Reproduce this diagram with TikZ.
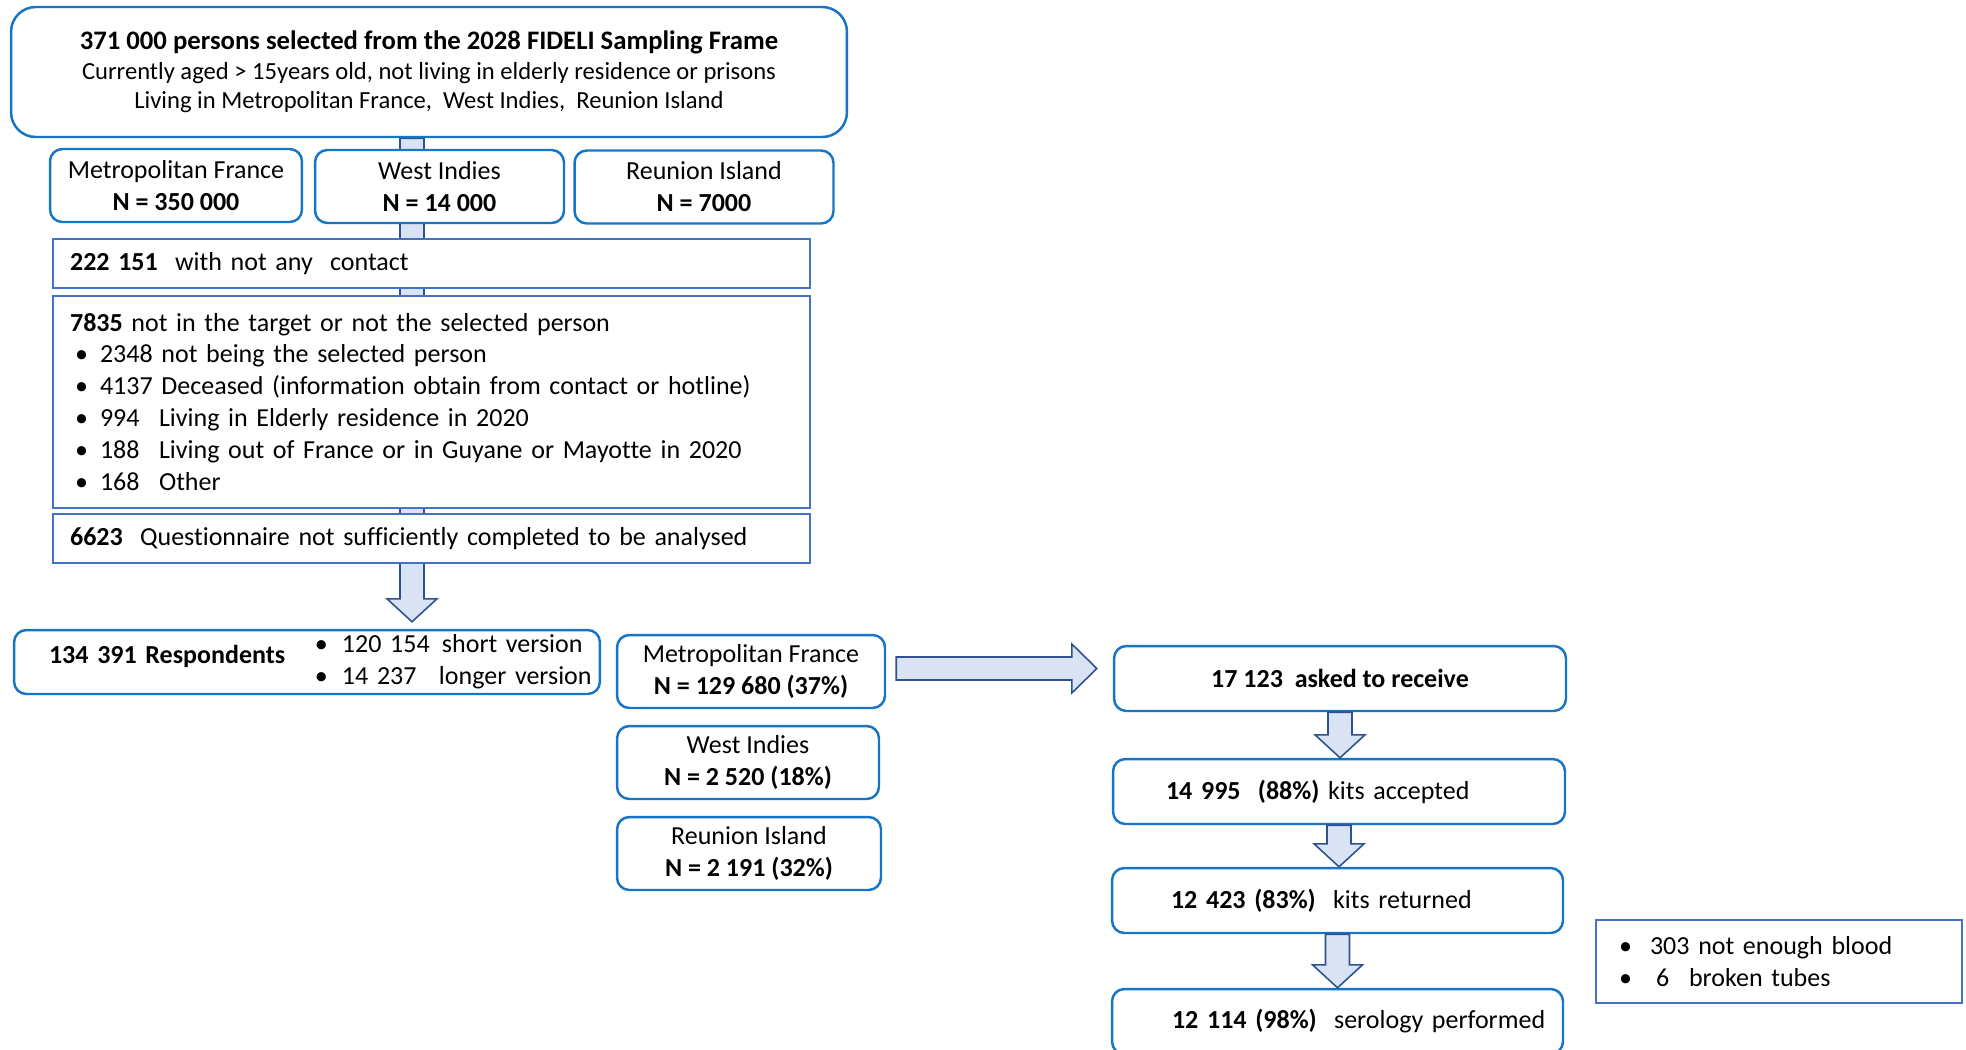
\documentclass[tikz,border=0pt]{standalone}
\usepackage{fontspec}
\setmainfont{Carlito}[Ligatures=CommonOff]
\usetikzlibrary{positioning,calc,backgrounds}
\definecolor{rndblue}{RGB}{23,117,197}
\definecolor{sqblue}{RGB}{68,114,196}
\definecolor{arrfill}{RGB}{218,227,243}
\definecolor{arrline}{RGB}{47,82,143}

% block arrow pointing down: top point, tip point (same x)
\newcommand\vblk[2]{%
  \draw[blk] ($#1+(-12,0)$) -- ($#1+(12,0)$) -- ($#2+(12,-23)$) -- ($#2+(25,-23)$)
    -- #2 -- ($#2+(-25,-23)$) -- ($#2+(-12,-23)$) -- cycle;}
\newcommand\bul[1]{\makebox[#1][l]{\textbullet}}

\begin{document}
\begin{tikzpicture}[x=0.02cm, y=-0.02cm,
  every node/.style={font=\fontsize{14.8}{18.2}\selectfont},
  rbox/.style={draw=rndblue, line width=1.4pt, fill=white, rounded corners=#1,
               align=center, inner sep=0pt},
  rbox/.default=7pt,
  sqbox/.style={draw=sqblue, line width=1.1pt, fill=white, align=left,
                inner xsep=0.34cm, inner ysep=0pt},
  blk/.style={fill=arrfill, draw=arrline, line width=0.9pt, line join=miter}
]
\useasboundingbox (0,0) rectangle (1966,1049);

% sampling frame
\node[rbox=14pt, minimum width=16.72cm, minimum height=2.6cm,
      font=\fontsize{14}{16.8}\selectfont] (frame) at (429,72)
  {{\fontsize{15.2}{16.8}\selectfont\textbf{371 000 persons selected from the 2028 FIDELI Sampling Frame}}\\
   Currently aged > 15years old, not living in elderly residence or prisons\\
   Living in Metropolitan France,\ \ West Indies,\ \ Reunion Island};

\node[rbox, minimum width=5.04cm, minimum height=1.46cm] (metro)   at (176,185.5) {Metropolitan France\\\textbf{N = 350 000}};
\node[rbox, minimum width=4.98cm, minimum height=1.46cm] (indies)  at (439.5,186.5) {West Indies\\\textbf{N = 14 000}};
\node[rbox, minimum width=5.18cm, minimum height=1.46cm] (reunion) at (704,187) {Reunion Island\\\textbf{N = 7000}};

% exclusions
\node[sqbox, text width=14.46cm, minimum height=0.98cm] (nocontact) at (431.5,263.5)
  {\textbf{222 151}\ \ with not any\ \ contact};
\node[sqbox, text width=14.46cm, minimum height=4.24cm] (outtarget) at (431.5,402)
  {\textbf{7835} not in the target or not the selected person\\
   \hspace*{0.1cm}\bul{0.5cm}2348 not being the selected person\\
   \hspace*{0.1cm}\bul{0.5cm}4137 Deceased (information obtain from contact or hotline)\\
   \hspace*{0.1cm}\bul{0.5cm}\makebox[1.18cm][l]{994}Living in Elderly residence in 2020\\
   \hspace*{0.1cm}\bul{0.5cm}\makebox[1.18cm][l]{188}Living out of France or in Guyane or Mayotte in 2020\\
   \hspace*{0.1cm}\bul{0.5cm}\makebox[1.18cm][l]{168}Other};
\node[sqbox, text width=14.46cm, minimum height=0.98cm] (incomplete) at (431.5,538.5)
  {\textbf{6623}\ \ Questionnaire not sufficiently completed to be analysed};

% respondents
\node[rbox, align=left, inner xsep=0.1cm, text width=11.52cm, minimum height=1.28cm] (resp) at (307,662)
  {\hspace*{0.6cm}\raisebox{0.1cm}{\makebox[5.32cm][l]{\textbf{134 391 Respondents}}}%
   \begin{tabular}[c]{@{}l@{}}
     \bul{0.54cm}\makebox[2cm][l]{120 154}short version\\
     \bul{0.54cm}\makebox[1.94cm][l]{14 237}longer version
   \end{tabular}};

\node[rbox, minimum width=5.36cm, minimum height=1.46cm] (metroresp)   at (751,671.5) {Metropolitan France\\\textbf{N = 129 680 (37\%)}};
\node[rbox, minimum width=5.24cm, minimum height=1.46cm] (indiesresp)  at (748,762.5) {West Indies\\\textbf{N = 2 520 (18\%)}};
\node[rbox, minimum width=5.28cm, minimum height=1.46cm] (reunionresp) at (749,853.5) {Reunion Island\\\textbf{N = 2 191 (32\%)}};

% serology
\node[rbox, minimum width=9.04cm, minimum height=1.3cm] (asked) at (1340,678.5)
  {\textbf{17 123\ \ asked to receive}};
\node[rbox, align=left, inner xsep=0.1cm, text width=8.84cm, minimum height=1.3cm] (accepted) at (1339,791.5)
  {\hspace*{0.96cm}\textbf{14 995\ \ (88\%)} kits accepted};
\node[rbox, align=left, inner xsep=0.1cm, text width=8.82cm, minimum height=1.3cm] (returned) at (1337.5,900.5)
  {\hspace*{1.08cm}\textbf{12 423 (83\%)}\ \ kits returned};
\node[rbox, align=left, inner xsep=0.1cm, text width=8.82cm, minimum height=1.3cm] (serology) at (1337.5,1021.5)
  {\hspace*{1.1cm}\textbf{12 114 (98\%)}\ \ serology performed};
\node[sqbox, inner xsep=0.46cm, text width=6.4cm, minimum height=1.66cm] (lost) at (1779,961.5)
  {\bul{0.62cm}303 not enough blood\\
   \bul{0.74cm}\makebox[0.66cm][l]{6}broken tubes};

% arrows
\coordinate (spine) at (412,0);
\coordinate (spinetop) at (spine |- frame.south);
\coordinate (spinetip) at ($(spine |- resp.north)+(0,-7)$);
\begin{scope}[on background layer]
  \fill[white] (0,0) rectangle (1966,1049);
  \vblk{(spinetop)}{(spinetip)}
\end{scope}

\coordinate (htail) at ($(metroresp.east)+(10,-3)$);
\coordinate (htip) at ($(asked.west |- htail)+(-16,0)$);
\draw[blk] ($(htail)+(0,-11.5)$) -- ($(htip)+(-25,-11.5)$) -- ($(htip)+(-25,-24.5)$) -- (htip)
  -- ($(htip)+(-25,24.5)$) -- ($(htip)+(-25,11.5)$) -- ($(htail)+(0,11.5)$) -- cycle;

\coordinate (a1) at (asked.south |- accepted.north);
\coordinate (a2) at (accepted.south |- returned.north);
\coordinate (a3) at (returned.south |- serology.north);
\vblk{(asked.south)}{(a1)}
\vblk{(accepted.south)}{(a2)}
\vblk{(returned.south)}{(a3)}
\end{tikzpicture}
\end{document}
